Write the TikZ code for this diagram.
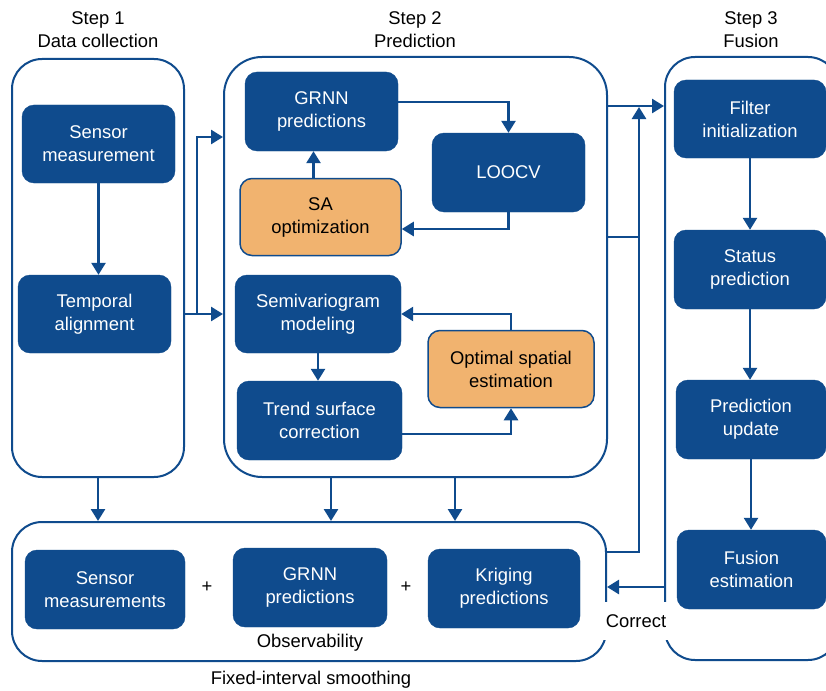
\documentclass[tikz,border=0pt]{standalone}
\usepackage{fontspec}
\setmainfont{Liberation Sans}
\usetikzlibrary{arrows.meta}
\definecolor{dblue}{RGB}{15,75,141}
\definecolor{lorange}{RGB}{241,179,111}
\tikzset{
  txt/.style={font=\fontsize{18.4}{23}\selectfont, align=center, inner sep=0pt},
  bbox/.style={txt, fill=dblue, draw=dblue, text=white, rounded corners=12pt, minimum width=153pt, minimum height=78pt},
  obox/.style={txt, fill=lorange, draw=dblue, line width=1.5pt, text=black, rounded corners=12pt, minimum width=161pt, minimum height=77pt},
  cont/.style={draw=dblue, line width=2pt, rounded corners=30pt, inner sep=0pt},
  arr/.style={draw=dblue, line width=2.6pt, -{Triangle[length=12pt,width=14pt]}},
  ln/.style={draw=dblue, line width=2.6pt},
}
\begin{document}
\begin{tikzpicture}[x=1pt,y=-1pt]
\useasboundingbox (0,0) rectangle (826,690);
\clip (0,0) rectangle (826,690);
\fill[white] (0,0) rectangle (826,690);
% containers
\node[cont, minimum width=172pt, minimum height=418pt] (c1) at (98,268) {};
\node[cont, rounded corners=38pt, minimum width=383pt, minimum height=420pt] (c2) at (415.5,267) {};
\node[cont, minimum width=173pt, minimum height=603pt] (c3) at (751.5,358.5) {};
\node[cont, minimum width=594pt, minimum height=139pt] (cb) at (309,591.5) {};
% titles
\node[txt] (t1) at (98,30) {Step 1\\Data collection};
\node[txt] (t2) at (415,30) {Step 2\\Prediction};
\node[txt] (t3) at (751,30) {Step 3\\Fusion};
% step 1
\node[bbox] (sm) at (98.5,144) {Sensor\\measurement};
\node[bbox] (ta) at (94.5,314) {Temporal\\alignment};
% step 2
\node[bbox, minimum height=79pt] (grnn) at (321.5,111.5) {GRNN\\predictions};
\node[obox] (sa) at (320.5,217) {SA\\optimization};
\node[bbox, minimum width=166pt] (semi) at (318,314) {Semivariogram\\modeling};
\node[bbox, minimum width=165pt, minimum height=79pt] (trend) at (319.5,420.5) {Trend surface\\correction};
\node[obox, minimum width=166pt] (opt) at (511,369) {Optimal spatial\\estimation};
\node[bbox, minimum height=79pt] (loocv) at (508.5,172.5) {LOOCV};
% step 3
\node[bbox, minimum width=152pt] (fi) at (750,119) {Filter\\initialization};
\node[bbox, minimum width=152pt, minimum height=79pt] (sp) at (750,269.5) {Status\\prediction};
\node[bbox, minimum width=150pt, minimum height=79pt] (pu) at (751,419.5) {Prediction\\update};
\node[bbox, minimum width=149pt, minimum height=79pt] (fe) at (751.5,569.5) {Fusion\\estimation};
% bottom
\node[bbox, minimum width=160pt, minimum height=79pt] (smb) at (105,589.5) {Sensor\\measurements};
\node[txt] (p1) at (207,587) {+};
\node[bbox, minimum width=154pt, minimum height=79pt] (grnnb) at (310,587.5) {GRNN\\predictions};
\node[txt] (p2) at (406,587) {+};
\node[bbox, minimum width=152pt, minimum height=79pt] (krig) at (504,588.5) {Kriging\\predictions};
\node[txt] (obs) at (310,643) {Observability};
\node[txt] (fis) at (311,680) {Fixed-interval smoothing};
% helper coordinates
\coordinate (j1) at (197,314);
\coordinate (y137) at (0,137);
\coordinate (y106) at (0,106);
\coordinate (y237) at (0,237);
\coordinate (y552) at (0,552);
\coordinate (y587) at (0,587);
\coordinate (j2) at (639,107);
\coordinate (x331) at (331,0);
\coordinate (x455) at (455,0);
% connectors step 1
\draw[arr] (sm.south) -- (sm.south |- ta.north);
\draw[arr] (c1.east |- ta) -- (c2.west |- ta);
\draw[arr] (j1) |- (c2.west |- y137);
% connectors step 2
\draw[arr] ([yshift=9.5pt]grnn.east) -| (loocv.north);
\draw[arr] (loocv.south) |- ([yshift=-12pt]sa.east);
\draw[arr] ([xshift=-7pt]sa.north) -- ([xshift=-7pt]sa.north |- grnn.south);
\draw[arr] (semi.south) -- (semi.south |- trend.north);
\draw[arr] ([yshift=-13.5pt]trend.east) -| (opt.south);
\draw[arr] (opt.north) |- (semi.east);
% step 2 -> step 3
\draw[arr] (c2.east |- y106) -- (c3.west |- y106);
\draw[arr] (cb.east |- y552) -| (j2);
\draw[ln] (c2.east |- y237) -- (j2 |- y237);
% step 3
\draw[arr] (fi.south) -- (fi.south |- sp.north);
\draw[arr] (sp.south) -- (sp.south |- pu.north);
\draw[arr] (pu.south) -- (pu.south |- fe.north);
\draw[arr] (c3.west |- y587) -- (cb.east |- y587);
% to bottom
\draw[arr] (c1.south) -- (c1.south |- cb.north);
\draw[arr] (x331 |- c2.south) -- (x331 |- cb.north);
\draw[arr] (x455 |- c2.south) -- (x455 |- cb.north);
% correct label
\node[txt, fill=white, minimum width=68pt, minimum height=38pt] (corr) at (636,621) {Correct};
\end{tikzpicture}
\end{document}
